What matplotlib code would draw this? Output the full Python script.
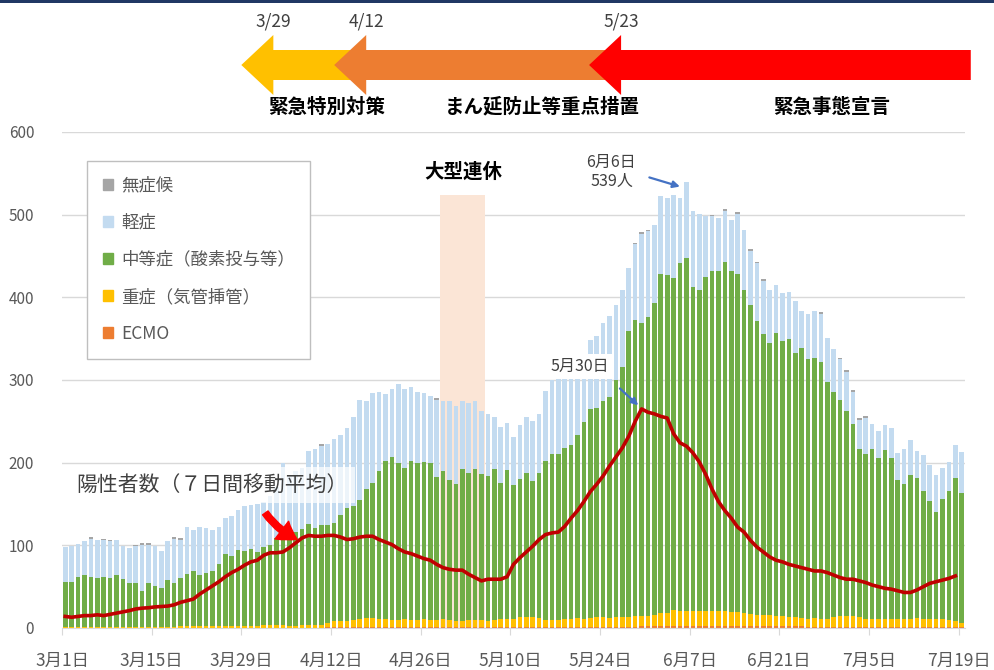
import numpy as np
import matplotlib.pyplot as plt
from matplotlib.patches import Patch, Polygon, FancyArrowPatch, Rectangle
from matplotlib import transforms

plt.rcParams['font.family'] = ['Noto Sans CJK JP', 'DejaVu Sans']

# 3/1 .. 7/19 (141 days)
ecmo = [0] * 41 + [1] * 49 + [2] * 26 + [1] * 25

severe = [1, 1, 1, 1, 1, 1, 1, 1, 1, 1,
          1, 1, 1, 1, 1, 1, 1, 1, 2, 2,
          2, 2, 2, 2, 3, 3, 3, 3, 3, 3,
          3, 4, 4, 4, 4, 3, 3, 4, 4, 4,
          4, 5, 8, 8, 8, 9, 10, 11, 11, 10,
          10, 9, 9, 10, 9, 9, 10, 9, 9, 10,
          9, 8, 8, 9, 9, 9, 8, 9, 10, 10,
          10, 12, 12, 12, 11, 9, 9, 9, 10, 10,
          11, 10, 11, 12, 12, 11, 12, 12, 12, 13,
          13, 12, 14, 16, 16, 20, 18, 18, 19, 18,
          18, 19, 19, 18, 17, 17, 16, 15, 14, 14,
          14, 13, 12, 11, 11, 10, 10, 11, 10, 10,
          12, 13, 14, 13, 12, 10, 10, 10, 10, 10,
          10, 10, 10, 11, 10, 10, 10, 10, 9, 7, 5]

moderate = [55, 55, 61, 63, 61, 60, 61, 60, 63, 58,
            53, 53, 44, 53, 50, 47, 57, 53, 58, 63,
            67, 62, 65, 67, 74, 86, 84, 91, 90, 92,
            89, 94, 96, 105, 106, 109, 113, 116, 122, 117,
            121, 118, 118, 128, 136, 138, 144, 156, 163, 179,
            191, 197, 190, 183, 192, 190, 190, 190, 173, 179,
            169, 165, 183, 178, 182, 176, 175, 182, 165, 180,
            162, 167, 174, 165, 176, 192, 201, 201, 207, 210,
            222, 238, 253, 253, 262, 268, 287, 303, 346, 359,
            354, 362, 377, 410, 409, 401, 422, 428, 392, 389,
            405, 411, 411, 423, 413, 409, 391, 374, 355, 340,
            329, 342, 333, 337, 320, 327, 314, 315, 311, 287,
            272, 262, 247, 233, 204, 199, 206, 195, 204, 195,
            168, 163, 174, 169, 155, 143, 129, 145, 156, 174, 157]

mild = [42, 43, 40, 41, 46, 46, 44, 44, 43, 40,
        43, 45, 56, 47, 48, 45, 47, 54, 47, 57,
        49, 58, 54, 50, 45, 44, 49, 49, 55, 54,
        58, 54, 60, 61, 90, 73, 74, 73, 88, 95,
        95, 98, 102, 96, 97, 107, 121, 107, 109, 95,
        81, 82, 95, 95, 89, 86, 83, 81, 93, 84,
        96, 94, 83, 84, 82, 76, 75, 63, 67, 57,
        58, 65, 68, 73, 71, 85, 89, 94, 90, 91,
        81, 71, 83, 87, 94, 97, 91, 93, 77, 91,
        108, 104, 94, 94, 93, 101, 78, 91, 92, 92,
        73, 66, 64, 62, 62, 73, 72, 65, 70, 64,
        64, 58, 58, 56, 63, 45, 55, 57, 58, 53,
        52, 49, 48, 39, 35, 44, 30, 32, 30, 36,
        33, 43, 43, 33, 43, 43, 45, 38, 35, 39, 50]

asymptomatic = [0, 0, 0, 0, 2, 0, 2, 2, 0, 0,
                0, 2, 2, 2, 0, 0, 0, 2, 2, 0,
                0, 0, 0, 0, 0, 0, 0, 0, 0, 0,
                0, 0, 0, 0, 0, 0, 0, 0, 0, 0,
                2, 0, 0, 0, 0, 0, 0, 0, 0, 0,
                0, 0, 0, 0, 0, 0, 0, 0, 2, 0,
                0, 0, 0, 0, 0, 0, 0, 0, 0, 0,
                0, 0, 0, 0, 0, 0, 0, 0, 0, 0,
                0, 0, 0, 0, 0, 0, 0, 0, 0, 2,
                2, 2, 0, 0, 0, 0, 0, 0, 0, 0,
                0, 2, 0, 2, 0, 2, 0, 2, 2, 2,
                0, 0, 0, 0, 0, 0, 0, 0, 2, 0,
                0, 2, 2, 2, 2, 2, 0, 0, 0, 0,
                0, 0, 0, 0, 0, 0, 0, 0, 0, 0, 0]

# 7-day moving average of positive cases (3/1 .. 7/18)
moving_avg = [14, 13, 14, 15, 15, 16, 15, 16.5, 18, 19.5,
              21, 23, 24, 24.5, 25.5, 26, 26.5, 28, 31, 33,
              35, 41, 46, 51, 56, 62, 67, 71, 76, 80,
              82, 88, 91, 91, 92, 97, 103, 109, 112, 111,
              111, 112, 112, 110, 107, 108, 110, 111, 111, 107,
              104, 101, 96, 92, 90, 87, 84, 82, 77, 73,
              71, 70, 70, 65, 61, 57, 59, 59, 59, 62,
              77, 85, 92, 99, 107, 113, 115, 116, 123, 133,
              142, 153, 165, 174, 184, 196, 207, 218, 232, 250,
              265, 261, 259, 256, 254, 235, 224, 220, 212, 201,
              186, 168, 153, 142, 133, 122, 116, 106, 98, 92,
              86, 82, 80, 77, 75, 73, 71, 69, 69, 67,
              64, 61, 59, 59, 57, 55, 52, 50, 48, 47,
              45, 43, 43, 46, 50, 54, 56, 58, 60, 63]

tick_labels = ['3月1日', '3月15日', '3月29日', '4月12日', '4月26日', '5月10日',
               '5月24日', '6月7日', '6月21日', '7月5日', '7月19日']

# policy periods: start day index, date label, name, colour, end of arrow body
phases = [(28, '3/29', '緊急特別対策', '#FFC000', 50),
          (42, '4/12', 'まん延防止等重点措置', '#ED7D31', 122),
          (83, '5/23', '緊急事態宣言', '#FF0000', 141.4)]
holiday = (59, 65)   # 4/29 .. 5/5
peak_day, peak_val = 97, 539
ma_peak_day = 90

days = np.arange(len(mild))
ecmo = np.array(ecmo)
severe = np.array(severe)
moderate = np.array(moderate)
mild = np.array(mild)
asymptomatic = np.array(asymptomatic)

fig = plt.figure(figsize=(9.95, 6.70), dpi=100)
ax = fig.add_axes([62 / 995, 42 / 670, 903 / 995, 496 / 670])

w = 0.72
b1 = ecmo
b2 = b1 + severe
b3 = b2 + moderate
b4 = b3 + mild
ax.bar(days, ecmo, w, color='#ED7D31', zorder=2)
ax.bar(days, severe, w, bottom=b1, color='#FFC000', zorder=2)
ax.bar(days, moderate, w, bottom=b2, color='#70AD47', zorder=2)
ax.bar(days, mild, w, bottom=b3, color='#C3DBF0', zorder=2)
ax.bar(days, asymptomatic, w, bottom=b4, color='#A5A5A5', zorder=2)

ax.plot(days[:len(moving_avg)], moving_avg, color='#C00000', lw=2.6, zorder=4)

# holiday band
ax.add_patch(Rectangle((holiday[0] - 0.5, 0), holiday[1] - holiday[0] + 1, 524,
                       color='#FBE5D6', zorder=1, lw=0))
ax.text((holiday[0] + holiday[1]) / 2 + 0.2, 552, '大型連休', ha='center', va='center',
        fontsize=14, fontweight='bold', color='#000000')

ax.set_xlim(-0.5, 140.5)
ax.set_ylim(0, 600)
ax.set_yticks(range(0, 700, 100))
ax.set_xticks(np.arange(-0.5, 141, 14))
ax.set_xticklabels(tick_labels)
ax.yaxis.grid(True, color='#D9D9D9', lw=1)
ax.set_axisbelow(True)
for s in ['top', 'right', 'left']:
    ax.spines[s].set_visible(False)
ax.spines['bottom'].set_color('#D9D9D9')
ax.tick_params(axis='y', length=0, pad=20, labelsize=11, labelcolor='#595959')
ax.tick_params(axis='x', length=5, color='#D9D9D9', pad=12, labelsize=12.5,
               labelcolor='#595959')

# legend
handles = [Patch(color='#A5A5A5', label='無症候'),
           Patch(color='#C3DBF0', label='軽症'),
           Patch(color='#70AD47', label='中等症（酸素投与等）'),
           Patch(color='#FFC000', label='重症（気管挿管）'),
           Patch(color='#ED7D31', label='ECMO')]
leg = ax.legend(handles=handles, loc='upper left', bbox_to_anchor=(87 / 995, 1 - 161 / 670),
                bbox_transform=fig.transFigure, borderaxespad=0, fontsize=12.5,
                labelcolor='#595959', fancybox=False, framealpha=1, edgecolor='#BFBFBF',
                handlelength=0.6, handleheight=0.6, handletextpad=0.45,
                labelspacing=1.1, borderpad=0.9)
leg.get_frame().set_linewidth(1)
leg.set_zorder(6)

# annotations
ax.text(1.8, 173, '陽性者数（７日間移動平均）', ha='left', va='center', fontsize=15,
        color='#404040', zorder=5,
        bbox=dict(facecolor='white', alpha=0.7, edgecolor='none', pad=5))
ax.add_patch(FancyArrowPatch((31.0, 142), (36.6, 106), connectionstyle='arc3,rad=0.15',
                             arrowstyle='simple,head_length=0.8,head_width=1.0,tail_width=0.3',
                             mutation_scale=16, color='#FF0000', zorder=6))

ax.text(85.3, 552, '6月6日\n539人', ha='center', va='center', fontsize=11.5,
        color='#404040', linespacing=1.15, zorder=5)
ax.add_patch(FancyArrowPatch((90.8, 546), (peak_day - 0.6, peak_val - 6),
                             arrowstyle='-|>', mutation_scale=10, lw=1.6,
                             color='#4472C4', zorder=6))

ax.text(80.3, 316, '5月30日', ha='center', va='center', fontsize=11.5, color='#404040',
        zorder=5, bbox=dict(facecolor='white', edgecolor='none', pad=3))
ax.add_patch(FancyArrowPatch((86.3, 292), (ma_peak_day - 0.2, moving_avg[ma_peak_day] + 2),
                             arrowstyle='-|>', mutation_scale=10, lw=1.6,
                             color='#4472C4', zorder=6))

# policy arrows on top
tr = transforms.blended_transform_factory(ax.transData, fig.transFigure)
yc = 1 - 65 / 670
hh = 30 / 670
bh = 15 / 670
hl = 5.0
lab_x = [40.8, 74.5, 119.7]
tip_shift = [0.5, 0.0, 1.2]
for (start, date, name, col, end), lx, sh in zip(phases, lab_x, tip_shift):
    tip = start - sh
    pts = [(tip, yc), (tip + hl, yc + hh), (tip + hl, yc + bh), (end, yc + bh),
           (end, yc - bh), (tip + hl, yc - bh), (tip + hl, yc - hh)]
    ax.add_patch(Polygon(pts, closed=True, facecolor=col, edgecolor='none',
                         transform=tr, clip_on=False, zorder=3))
    ax.text(tip + 5.0, 1 - 22 / 670, date, transform=tr, ha='center', va='center',
            fontsize=12.5, color='#404040')
    ax.text(lx, 1 - 107 / 670, name, transform=tr, ha='center', va='center',
            fontsize=14, fontweight='bold', color='#000000')

fig.add_artist(Rectangle((0, 1 - 3 / 670), 1, 3 / 670, transform=fig.transFigure,
                         color='#203864', lw=0))

fig.savefig('out.png', dpi=100)
